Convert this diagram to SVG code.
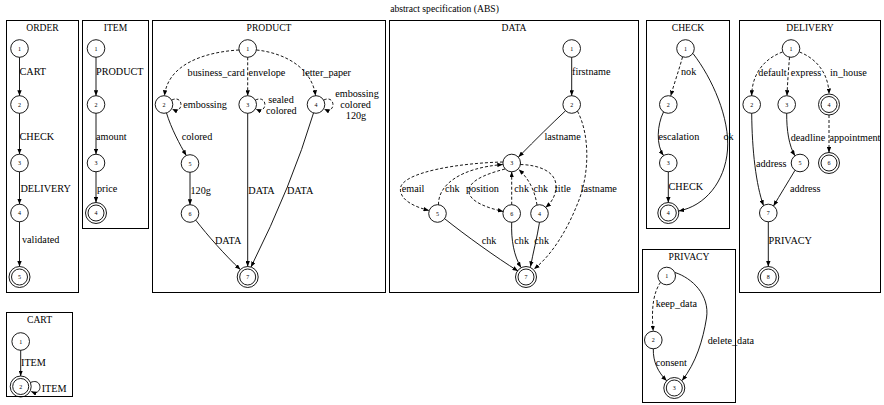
<svg xmlns="http://www.w3.org/2000/svg" width="884" height="405" viewBox="0 0 884 405">
<style>
text{font-family:"Liberation Serif","Times New Roman",serif;fill:#000}
.t{font-size:9.6px;text-anchor:middle}
.l{font-size:10.2px}
.m{text-anchor:middle}
.nl{font-size:6px;text-anchor:middle}
.box{fill:none;stroke:#000;stroke-width:1}
.n{fill:none;stroke:#000;stroke-width:0.9}
.e{fill:none;stroke:#000;stroke-width:0.9;marker-end:url(#a)}
.d{stroke-dasharray:3,2}
</style>
<defs>
<marker id="a" markerUnits="userSpaceOnUse" markerWidth="5.5" markerHeight="4.4" viewBox="0 0 10 8" refX="10" refY="4" orient="auto"><path d="M0,0 L10,4 L0,8z" fill="#000"/></marker>
</defs>
<rect width="884" height="405" fill="#fff"/>
<text class="t" x="444.5" y="11.5">abstract specification (ABS)</text>

<!-- cluster boxes -->
<g id="clusters">
<rect class="box" x="6.5" y="20.5" width="72" height="272"/>
<text class="t" x="42.5" y="30.5">ORDER</text>
<rect class="box" x="82.5" y="20.5" width="66" height="208"/>
<text class="t" x="115.5" y="30.5">ITEM</text>
<rect class="box" x="152.5" y="20.5" width="233" height="272"/>
<text class="t" x="269" y="30.5">PRODUCT</text>
<rect class="box" x="389.5" y="20.5" width="249" height="272"/>
<text class="t" x="514" y="30.5">DATA</text>
<rect class="box" x="646.5" y="20.5" width="83" height="208"/>
<text class="t" x="688" y="30.5">CHECK</text>
<rect class="box" x="739.5" y="20.5" width="141" height="272"/>
<text class="t" x="810" y="30.5">DELIVERY</text>
<rect class="box" x="642.5" y="249.5" width="93" height="153"/>
<text class="t" x="689" y="260">PRIVACY</text>
<rect class="box" x="6.5" y="312.5" width="66" height="84"/>
<text class="t" x="39.5" y="322.5">CART</text>
</g>

<!-- connectors -->
<g id="edges">
<!-- ORDER -->
<path class="e" d="M19.5,57.3 L19.5,95.7"/>
<path class="e" d="M19.5,113.3 L19.5,154.2"/>
<path class="e" d="M19.5,171.8 L19.5,204.2"/>
<path class="e" d="M19.5,221.8 L19.5,266.5"/>
<!-- ITEM -->
<path class="e" d="M96,57.3 L96,95.7"/>
<path class="e" d="M96,113.3 L96,154.2"/>
<path class="e" d="M96,171.8 L96,202.5"/>
<!-- PRODUCT -->
<path class="e d" d="M239,50 C205,52 168,64 164.5,95.7"/>
<path class="e d" d="M247.7,57.3 L247.7,95.7"/>
<path class="e d" d="M256.5,50 C285,53 312,68 315.5,95.7"/>
<path class="e d" d="M171.6,100.1 C184,94 184,115 172.2,109"/>
<path class="e d" d="M255.3,100.1 C268,94 268,115 255.9,109"/>
<path class="e d" d="M323.6,100.1 C336,94 336,115 324.2,109"/>
<path class="e" d="M166.5,113 C171,128 180,145 186.3,155.6"/>
<path class="e" d="M190,172.3 L190,204.7"/>
<path class="e" d="M195.8,220.2 C208,236 225,255 240.3,269.6"/>
<path class="e" d="M247.7,113.3 L247.7,266.5"/>
<path class="e" d="M313.5,113 Q292,185 251,267"/>
<!-- DATA -->
<path class="e" d="M571.7,57.3 L571.7,95.7"/>
<path class="e" d="M565.5,110.8 Q545,130 518.5,157"/>
<path class="e d" d="M577.5,111.2 C590,135 590,175 577,205 C567,230 552,255 534,269"/>
<path class="e d" d="M502.9,162 C460,163 403,172 400.5,188 C399,200 415,207 429,210.5"/>
<path class="e d" d="M438.5,204.8 C438,185 460,168 502.8,164.5"/>
<path class="e d" d="M505,169 C482,175 468,182 469,192 C470,202 488,208 503.2,211.5"/>
<path class="e d" d="M511.7,204.7 L511.7,171.8"/>
<path class="e d" d="M537,205 C535,192 530,180 518.8,169.5"/>
<path class="e d" d="M520.3,164.5 C540,165 556,172 556,186 C556,196 551,203 545.5,207.5"/>
<path class="e" d="M445,219 C465,235 497,258 518,271"/>
<path class="e" d="M511.7,222.3 C511,240 514,256 521,267.5"/>
<path class="e" d="M539.5,222.3 C537,238 533,253 530.5,266.8"/>
<!-- CHECK -->
<path class="e d" d="M682.5,57 C679,70 674,84 670.7,96"/>
<path class="e" d="M663.5,112 C657,125 656,145 663.5,155.5"/>
<path class="e" d="M668.3,171.8 L668.3,202.5"/>
<path class="e" d="M693,53.5 C712,78 730,118 727.5,150 C725,182 705,206 678.7,211"/>
<!-- DELIVERY -->
<path class="e d" d="M782.5,52 C766,58 752,72 751.7,95.7"/>
<path class="e d" d="M789.5,57.2 C788.5,70 787.5,83 787,95.7"/>
<path class="e d" d="M799.5,52 C815,58 828.5,72 829,94"/>
<path class="e d" d="M829,115 L829,152.5"/>
<path class="e" d="M786.7,113.3 C786.5,130 789,146 795,155.8"/>
<path class="e" d="M751.7,113.3 C752,150 756,185 763.5,205.6"/>
<path class="e" d="M795,170.3 C788,182 780,195 773.5,206"/>
<path class="e" d="M768.3,221.8 L768.3,266.5"/>
<!-- PRIVACY -->
<path class="e d" d="M660.5,282.3 C654,292 651,306 653.2,331.2"/>
<path class="e" d="M653.3,348.8 C653,362 658,372 666.7,380.8"/>
<path class="e" d="M675,272.5 C692,278 710,295 706.5,318 C703,340 696,363 682,380.6"/>
<!-- CART -->
<path class="e" d="M20.7,350.3 L20.7,376"/>
<path class="e" d="M30.5,382.5 C43,377 43,397 31.2,391.5"/>
</g>

<!-- edge labels -->
<g id="edge-labels" class="l">
<text x="19.5" y="75">CART</text>
<text x="19.5" y="140">CHECK</text>
<text x="20.5" y="191.5">DELIVERY</text>
<text x="22" y="242.5">validated</text>
<text x="96" y="75">PRODUCT</text>
<text x="96" y="140">amount</text>
<text x="97" y="191.5">price</text>
<text class="m" x="216.2" y="75.5">business_card</text>
<text class="m" x="267" y="75.5">envelope</text>
<text class="m" x="326.7" y="75.5">letter_paper</text>
<text x="183.3" y="108">embossing</text>
<text class="m" x="281" y="103">sealed</text>
<text class="m" x="281.3" y="113.5">colored</text>
<text class="m" x="357" y="97">embossing</text>
<text class="m" x="355.5" y="108">colored</text>
<text class="m" x="356" y="118.7">120g</text>
<text x="181.7" y="140">colored</text>
<text x="190.5" y="193.5">120g</text>
<text x="215" y="243.5">DATA</text>
<text x="248.3" y="193.5">DATA</text>
<text x="287" y="193.5">DATA</text>
<text x="572" y="75">firstname</text>
<text x="544.5" y="140">lastname</text>
<text x="580.7" y="192">lastname</text>
<text x="401.7" y="192">email</text>
<text x="445" y="192">chk</text>
<text x="466" y="192">position</text>
<text x="514.3" y="192">chk</text>
<text x="533.5" y="192">chk</text>
<text x="555" y="192">title</text>
<text x="481.7" y="243.5">chk</text>
<text x="514.3" y="243.5">chk</text>
<text x="534.3" y="243.5">chk</text>
<text x="681" y="75">nok</text>
<text x="658.5" y="140">escalation</text>
<text x="723.5" y="140">ok</text>
<text x="668.5" y="190">CHECK</text>
<text x="758.3" y="75.5">default</text>
<text x="790.7" y="75.5">express</text>
<text x="830" y="75.5">in_house</text>
<text x="790.7" y="140.5">deadline</text>
<text x="829.5" y="140.5">appointment</text>
<text x="756" y="166.5">address</text>
<text x="790" y="191.5">address</text>
<text x="768.5" y="243.5">PRIVACY</text>
<text x="655.7" y="306.5">keep_data</text>
<text x="707.7" y="343.5">delete_data</text>
<text x="655.7" y="366">consent</text>
<text x="21" y="366">ITEM</text>
<text x="41.7" y="391.5">ITEM</text>
</g>

<!-- nodes -->
<g id="ORDER-1"><circle class="n" cx="19.5" cy="48.5" r="8.8"/><text class="nl" x="19.5" y="50.5">1</text></g>
<g id="ORDER-2"><circle class="n" cx="19.5" cy="104.5" r="8.8"/><text class="nl" x="19.5" y="106.5">2</text></g>
<g id="ORDER-3"><circle class="n" cx="19.5" cy="163" r="8.8"/><text class="nl" x="19.5" y="165">3</text></g>
<g id="ORDER-4"><circle class="n" cx="19.5" cy="213" r="8.8"/><text class="nl" x="19.5" y="215">4</text></g>
<g id="ORDER-5"><circle class="n" cx="19.5" cy="277" r="10.5"/><circle class="n" cx="19.5" cy="277" r="8"/><text class="nl" x="19.5" y="279">5</text></g>

<g id="ITEM-1"><circle class="n" cx="96" cy="48.5" r="8.8"/><text class="nl" x="96" y="50.5">1</text></g>
<g id="ITEM-2"><circle class="n" cx="96" cy="104.5" r="8.8"/><text class="nl" x="96" y="106.5">2</text></g>
<g id="ITEM-3"><circle class="n" cx="96" cy="163" r="8.8"/><text class="nl" x="96" y="165">3</text></g>
<g id="ITEM-4"><circle class="n" cx="96" cy="213" r="10.5"/><circle class="n" cx="96" cy="213" r="8"/><text class="nl" x="96" y="215">4</text></g>

<g id="PRODUCT-1"><circle class="n" cx="247.7" cy="48.5" r="8.8"/><text class="nl" x="247.7" y="50.5">1</text></g>
<g id="PRODUCT-2"><circle class="n" cx="164" cy="104.5" r="8.8"/><text class="nl" x="164" y="106.5">2</text></g>
<g id="PRODUCT-3"><circle class="n" cx="247.7" cy="104.5" r="8.8"/><text class="nl" x="247.7" y="106.5">3</text></g>
<g id="PRODUCT-4"><circle class="n" cx="316" cy="104.5" r="8.8"/><text class="nl" x="316" y="106.5">4</text></g>
<g id="PRODUCT-5"><circle class="n" cx="190" cy="163.5" r="8.8"/><text class="nl" x="190" y="165.5">5</text></g>
<g id="PRODUCT-6"><circle class="n" cx="190" cy="213.5" r="8.8"/><text class="nl" x="190" y="215.5">6</text></g>
<g id="PRODUCT-7"><circle class="n" cx="247.7" cy="277" r="10.5"/><circle class="n" cx="247.7" cy="277" r="8"/><text class="nl" x="247.7" y="279">7</text></g>

<g id="DATA-1"><circle class="n" cx="571.7" cy="48.5" r="8.8"/><text class="nl" x="571.7" y="50.5">1</text></g>
<g id="DATA-2"><circle class="n" cx="571.7" cy="104.5" r="8.8"/><text class="nl" x="571.7" y="106.5">2</text></g>
<g id="DATA-3"><circle class="n" cx="511.7" cy="163" r="8.8"/><text class="nl" x="511.7" y="165">3</text></g>
<g id="DATA-5"><circle class="n" cx="437.5" cy="213.5" r="8.8"/><text class="nl" x="437.5" y="215.5">5</text></g>
<g id="DATA-6"><circle class="n" cx="511.7" cy="213.5" r="8.8"/><text class="nl" x="511.7" y="215.5">6</text></g>
<g id="DATA-4"><circle class="n" cx="539.5" cy="213.5" r="8.8"/><text class="nl" x="539.5" y="215.5">4</text></g>
<g id="DATA-7"><circle class="n" cx="526" cy="277" r="10.5"/><circle class="n" cx="526" cy="277" r="8"/><text class="nl" x="526" y="279">7</text></g>

<g id="CHECK-1"><circle class="n" cx="685.5" cy="48.5" r="8.8"/><text class="nl" x="685.5" y="50.5">1</text></g>
<g id="CHECK-2"><circle class="n" cx="668.3" cy="104.5" r="8.8"/><text class="nl" x="668.3" y="106.5">2</text></g>
<g id="CHECK-3"><circle class="n" cx="668.3" cy="163" r="8.8"/><text class="nl" x="668.3" y="165">3</text></g>
<g id="CHECK-4"><circle class="n" cx="668.3" cy="213" r="10.5"/><circle class="n" cx="668.3" cy="213" r="8"/><text class="nl" x="668.3" y="215">4</text></g>

<g id="DELIVERY-1"><circle class="n" cx="791" cy="48.5" r="8.8"/><text class="nl" x="791" y="50.5">1</text></g>
<g id="DELIVERY-2"><circle class="n" cx="751.7" cy="104.5" r="8.8"/><text class="nl" x="751.7" y="106.5">2</text></g>
<g id="DELIVERY-3"><circle class="n" cx="786.7" cy="104.5" r="8.8"/><text class="nl" x="786.7" y="106.5">3</text></g>
<g id="DELIVERY-4"><circle class="n" cx="829" cy="104.5" r="10.5"/><circle class="n" cx="829" cy="104.5" r="8"/><text class="nl" x="829" y="106.5">4</text></g>
<g id="DELIVERY-5"><circle class="n" cx="800" cy="163" r="8.8"/><text class="nl" x="800" y="165">5</text></g>
<g id="DELIVERY-6"><circle class="n" cx="829" cy="163" r="10.5"/><circle class="n" cx="829" cy="163" r="8"/><text class="nl" x="829" y="165">6</text></g>
<g id="DELIVERY-7"><circle class="n" cx="768.3" cy="213" r="8.8"/><text class="nl" x="768.3" y="215">7</text></g>
<g id="DELIVERY-8"><circle class="n" cx="768.3" cy="277" r="10.5"/><circle class="n" cx="768.3" cy="277" r="8"/><text class="nl" x="768.3" y="279">8</text></g>

<g id="PRIVACY-1"><circle class="n" cx="666.7" cy="276" r="8.8"/><text class="nl" x="666.7" y="278">1</text></g>
<g id="PRIVACY-2"><circle class="n" cx="653.3" cy="340" r="8.8"/><text class="nl" x="653.3" y="342">2</text></g>
<g id="PRIVACY-3"><circle class="n" cx="674.3" cy="388" r="10.5"/><circle class="n" cx="674.3" cy="388" r="8"/><text class="nl" x="674.3" y="390">3</text></g>

<g id="CART-1"><circle class="n" cx="20.7" cy="341.5" r="8.8"/><text class="nl" x="20.7" y="343.5">1</text></g>
<g id="CART-2"><circle class="n" cx="20.7" cy="386.5" r="10.5"/><circle class="n" cx="20.7" cy="386.5" r="8"/><text class="nl" x="20.7" y="388.5">2</text></g>
</svg>
